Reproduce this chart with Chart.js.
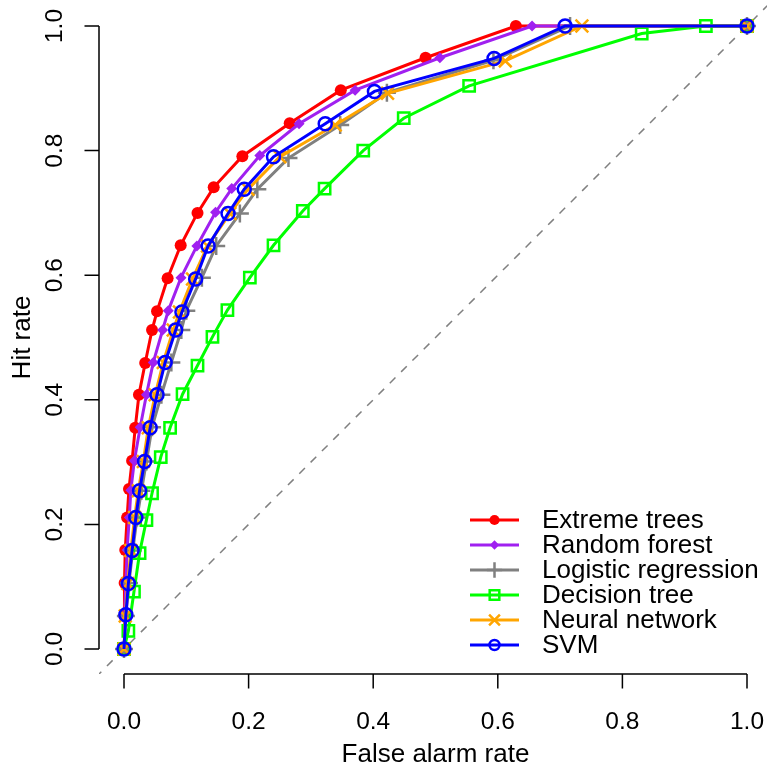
<!DOCTYPE html>
<html>
<head>
<meta charset="utf-8">
<script src="https://cdn.jsdelivr.net/npm/chart.js@4/dist/chart.umd.min.js"></script>
<style>
  body { margin: 0; background: #fff; }
  canvas { display: block; }
</style>
</head>
<body>
<canvas id="rocChart" width="767" height="765"></canvas>
<script>
// ROC curves: false alarm rate (x) vs hit rate (y)
const seriesNames = ['Extreme trees', 'Random forest', 'Logistic regression', 'Decision tree', 'Neural network', 'SVM'];

const etFar = [0, 0.0005, 0.001, 0.002, 0.005, 0.008, 0.013, 0.018, 0.024, 0.034, 0.045, 0.053, 0.070, 0.091, 0.118, 0.144, 0.190, 0.266, 0.348, 0.484, 0.629, 1];
const etHit = [0, 0.053, 0.106, 0.159, 0.211, 0.257, 0.302, 0.355, 0.408, 0.459, 0.512, 0.542, 0.595, 0.648, 0.700, 0.741, 0.791, 0.844, 0.897, 0.949, 1, 1];

const rfFar = [0, 0.001, 0.003, 0.005, 0.0085, 0.011, 0.0166, 0.026, 0.036, 0.047, 0.062, 0.071, 0.0915, 0.117, 0.147, 0.173, 0.218, 0.281, 0.371, 0.507, 0.655, 1];
const rfHit = [0, 0.053, 0.106, 0.159, 0.211, 0.255, 0.302, 0.356, 0.408, 0.460, 0.512, 0.543, 0.596, 0.647, 0.701, 0.739, 0.792, 0.843, 0.897, 0.949, 1, 1];

const lrFar = [0, 0.003, 0.008, 0.014, 0.021, 0.028, 0.036, 0.045, 0.060, 0.076, 0.092, 0.100, 0.125, 0.148, 0.186, 0.214, 0.264, 0.347, 0.422, 0.593, 0.716, 1];
const lrHit = [0, 0.053, 0.106, 0.158, 0.211, 0.254, 0.301, 0.356, 0.408, 0.460, 0.512, 0.543, 0.596, 0.647, 0.699, 0.738, 0.788, 0.841, 0.893, 0.945, 1, 1];

const dtFar = [0, 0.007, 0.016, 0.025, 0.036, 0.045, 0.059, 0.074, 0.094, 0.118, 0.142, 0.166, 0.202, 0.240, 0.287, 0.322, 0.384, 0.449, 0.554, 0.831, 0.934, 1];
const dtHit = [0, 0.029, 0.092, 0.154, 0.207, 0.250, 0.308, 0.355, 0.409, 0.455, 0.501, 0.544, 0.596, 0.648, 0.703, 0.739, 0.800, 0.852, 0.904, 0.988, 1, 1];

const nnFar = [0, 0.002, 0.006, 0.011, 0.017, 0.023, 0.031, 0.039, 0.050, 0.063, 0.079, 0.089, 0.110, 0.134, 0.170, 0.199, 0.250, 0.339, 0.423, 0.612, 0.735, 1];
const nnHit = [0, 0.053, 0.105, 0.158, 0.211, 0.254, 0.301, 0.355, 0.408, 0.460, 0.512, 0.541, 0.594, 0.647, 0.699, 0.738, 0.790, 0.841, 0.892, 0.944, 1, 1];

const svmFar = [0, 0.003, 0.007, 0.013, 0.019, 0.025, 0.033, 0.042, 0.053, 0.066, 0.083, 0.093, 0.115, 0.135, 0.167, 0.193, 0.240, 0.323, 0.402, 0.594, 0.708, 1];
const svmHit = [0, 0.055, 0.105, 0.158, 0.211, 0.254, 0.301, 0.355, 0.408, 0.460, 0.512, 0.541, 0.594, 0.647, 0.699, 0.738, 0.790, 0.843, 0.895, 0.948, 1, 1];

// reference diagonal (no skill), drawn past the axis range and clipped
const diagX = [-0.1, 1.1];
const diagY = [-0.1, 1.1];

const tickValues = [0, 0.2, 0.4, 0.6, 0.8, 1.0];
const tickLabels = ['0.0', '0.2', '0.4', '0.6', '0.8', '1.0'];

const FONT = '26px "Liberation Sans", Arial, sans-serif';
const TICK_FONT = '24.5px "Liberation Sans", Arial, sans-serif';

function pts(xs, ys) {
    return xs.map((x, i) => ({ x: x, y: ys[i] }));
}

const styles = [
    { color: '#FF0000', pointStyle: 'circle', radius: 6, fill: true, pw: 0 },
    { color: '#A020F0', pointStyle: 'rectRot', radius: 5.5, fill: true, pw: 0 },
    { color: '#808080', pointStyle: 'cross', radius: 9, fill: false, pw: 2.5 },
    { color: '#00FF00', pointStyle: 'rect', radius: 8, fill: false, pw: 2.5 },
    { color: '#FFA500', pointStyle: 'crossRot', radius: 9, fill: false, pw: 2.5 },
    { color: '#0000FF', pointStyle: 'circle', radius: 6.5, fill: false, pw: 2.5 }
];
const allData = [pts(etFar, etHit), pts(rfFar, rfHit), pts(lrFar, lrHit), pts(dtFar, dtHit), pts(nnFar, nnHit), pts(svmFar, svmHit)];

const datasets = seriesNames.map((name, i) => ({
    label: name,
    data: allData[i],
    showLine: true,
    borderColor: styles[i].color,
    borderWidth: 3,
    pointStyle: styles[i].pointStyle,
    pointRadius: styles[i].radius,
    pointBackgroundColor: styles[i].fill ? styles[i].color : 'rgba(0,0,0,0)',
    pointBorderColor: styles[i].color,
    pointBorderWidth: styles[i].pw,
    order: seriesNames.length - i
}));
datasets.push({
    label: 'diag',
    data: pts(diagX, diagY),
    showLine: true,
    borderColor: '#808080',
    borderWidth: 1.5,
    borderDash: [8, 8],
    pointRadius: 0,
    order: 10
});

// R style axes and legend drawn through the chart scales
const rAxes = {
    id: 'rAxes',
    afterDraw(chart) {
        const ctx = chart.ctx;
        const xs = chart.scales.x, ys = chart.scales.y;
        const x0 = xs.getPixelForValue(0), x1 = xs.getPixelForValue(1);
        const y0 = ys.getPixelForValue(0), y1 = ys.getPixelForValue(1);
        const bottom = chart.chartArea.bottom, left = chart.chartArea.left;
        ctx.save();
        ctx.strokeStyle = '#000';
        ctx.lineWidth = 1.5;
        ctx.beginPath();
        ctx.moveTo(x0, bottom); ctx.lineTo(x1, bottom);
        ctx.moveTo(left, y0); ctx.lineTo(left, y1);
        tickValues.forEach(v => {
            const px = xs.getPixelForValue(v);
            ctx.moveTo(px, bottom); ctx.lineTo(px, bottom + 14.5);
            const py = ys.getPixelForValue(v);
            ctx.moveTo(left, py); ctx.lineTo(left - 14.5, py);
        });
        ctx.stroke();

        ctx.fillStyle = '#000';
        ctx.font = TICK_FONT;
        ctx.textAlign = 'center';
        ctx.textBaseline = 'alphabetic';
        tickValues.forEach((v, i) => {
            ctx.fillText(tickLabels[i], xs.getPixelForValue(v), bottom + 55);
            ctx.save();
            ctx.translate(left - 37, ys.getPixelForValue(v));
            ctx.rotate(-Math.PI / 2);
            ctx.fillText(tickLabels[i], 0, 0);
            ctx.restore();
        });
        ctx.font = FONT;
        ctx.fillText('False alarm rate', xs.getPixelForValue(0.5), bottom + 88);
        ctx.save();
        ctx.translate(left - 69, ys.getPixelForValue(0.5));
        ctx.rotate(-Math.PI / 2);
        ctx.fillText('Hit rate', 0, 0);
        ctx.restore();

        // legend, bottom right
        ctx.textAlign = 'left';
        ctx.textBaseline = 'middle';
        seriesNames.forEach((name, i) => {
            const ly = 520 + 25 * i;
            const st = styles[i];
            ctx.strokeStyle = st.color;
            ctx.lineWidth = 3;
            ctx.beginPath();
            ctx.moveTo(470, ly); ctx.lineTo(519, ly);
            ctx.stroke();
            ctx.fillStyle = st.fill ? st.color : 'rgba(0,0,0,0)';
            ctx.strokeStyle = st.color;
            ctx.lineWidth = st.pw;
            Chart.helpers.drawPoint(ctx, {
                pointStyle: st.pointStyle,
                radius: st.pointStyle === 'circle' && !st.fill ? 5 : st.radius * 0.85,
                rotation: 0,
                borderWidth: st.pw
            }, 494.5, ly);
            ctx.fillStyle = '#000';
            ctx.fillText(name, 542, ly + 1);
        });
        ctx.restore();
    }
};

const ctx = document.getElementById('rocChart').getContext('2d');
new Chart(ctx, {
    type: 'scatter',
    data: { datasets: datasets },
    options: {
        responsive: false,
        animation: false,
        devicePixelRatio: 1,
        layout: { autoPadding: false, padding: { left: 99, right: 0, top: 1, bottom: 91 } },
        plugins: { legend: { display: false }, tooltip: { enabled: false } },
        scales: {
            x: { type: 'linear', display: false, min: -25 / 623, max: 643 / 623 },
            y: { type: 'linear', display: false, min: -25 / 623, max: 648 / 623 }
        }
    },
    plugins: [rAxes]
});
</script>
</body>
</html>
